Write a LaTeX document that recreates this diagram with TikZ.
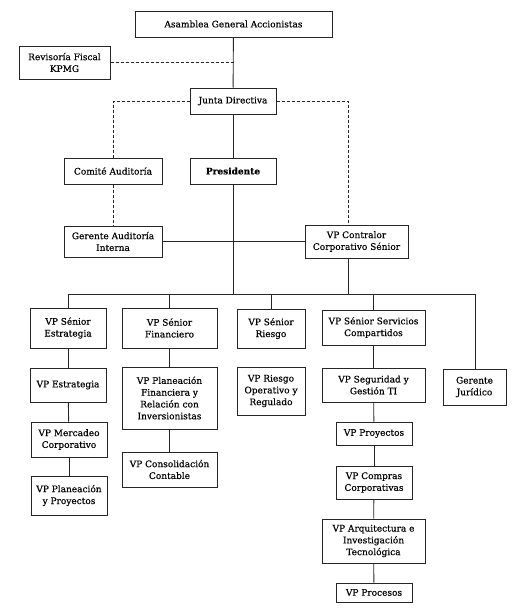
\documentclass[tikz,border=0pt]{standalone}
\usepackage{fontspec}
\setmainfont{DejaVu Serif}[FakeBold=0.35]
\usetikzlibrary{positioning}

\begin{document}
\begin{tikzpicture}[
    x=1pt, y=-1pt,
    every node/.style={font=\fontsize{9}{11.8}\selectfont},
    box/.style 2 args={rectangle, draw=black!85, line width=1pt, align=center, inner sep=1pt, minimum width=#1pt, minimum height=#2pt},
    line/.style={draw=black!85, line width=0.85pt},
    dline/.style={line, dashed, dash pattern=on 3pt off 2pt}
    ]
    \useasboundingbox (0,0) rectangle (513,608);
    \node[box={197}{26}] (AGA) at (233.5,24) {Asamblea General Accionistas};
    \node[box={91}{33}] (RF) at (64.5,62.5) {Revisoría Fiscal\\KPMG};
    \node[box={86}{26}] (JD) at (233,101) {Junta Directiva};
    \node[box={98}{26}] (CA) at (113,171) {Comité Auditoría};
    \node[box={86}{26}, font=\fontsize{9}{11.8}\selectfont\bfseries] (P) at (233,171) {Presidente};
    \node[box={98}{31}] (GAI) at (113,241.5) {Gerente Auditoría\\Interna};
    \node[box={103}{33}] (VPC) at (356.5,241.5) {VP Contralor\\Corporativo Sénior};
    \node[box={76}{40}] (SE) at (68,328) {VP Sénior\\Estrategia};
    \node[box={95}{40}] (SF) at (169.5,328) {VP Sénior\\Financiero};
    \node[box={68}{39}] (SR) at (271,328.5) {VP Sénior\\Riesgo};
    \node[box={103}{35}] (SSC) at (373.5,327.5) {VP Sénior Servicios\\Compartidos};
    \node[box={63}{36}] (GJ) at (474.5,387) {Gerente\\Jurídico};
    \node[box={76}{34}] (VE) at (68,385) {VP Estrategia};
    \node[box={76}{35}] (VMC) at (69,439.5) {VP Mercadeo\\Corporativo};
    \node[box={76}{39}] (VPP) at (69,495.5) {VP Planeación\\y Proyectos};
    \node[box={95}{62}] (VPF) at (169.5,398) {VP Planeación\\Financiera y\\Relación con\\Inversionistas};
    \node[box={95}{35}] (VCC) at (169.5,469.5) {VP Consolidación\\Contable};
    \node[box={68}{48}] (VRO) at (271,391) {VP Riesgo\\Operativo y\\Regulado};
    \node[box={103}{34}] (VSG) at (373.5,385) {VP Seguridad y\\Gestión TI};
    \node[box={76}{23}] (VP) at (374,433.5) {VP Proyectos};
    \node[box={76}{33}] (VCO) at (374,482.5) {VP Compras\\Corporativas};
    \node[box={103}{44}] (VAI) at (373.5,541) {VP Arquitectura e\\Investigación\\Tecnológica};
    \node[box={76}{19}] (VPR) at (374,592.5) {VP Procesos};
    \coordinate (BUSL) at (68,294);
    \coordinate (BUSR) at (475,294);
    \coordinate (CT) at ([xshift=-8.5pt]VPC.north);
    \coordinate (CB) at ([xshift=-8.5pt]VPC.south);
    \draw[line] (AGA) -- (JD);
    \draw[dline] (RF.east) -- (RF.east -| AGA.south);
    \draw[dline] (JD.west) -| (CA.north);
    \draw[dline] (JD.east) -| (CT);
    \draw[dline] (CA) -- (GAI);
    \draw[line] (JD) -- (P);
    \draw[line] (GAI) -- (VPC);
    \draw[line] (P.south) -- (P.south |- BUSL);
    \draw[line] (CB) -- (CB |- BUSL);
    \draw[line] (BUSL) -- (BUSR);
    \draw[line] (BUSL) -- (SE.north);
    \draw[line] (BUSL -| SF.north) -- (SF.north);
    \draw[line] (BUSL -| SR.north) -- (SR.north);
    \draw[line] (BUSL -| SSC.north) -- (SSC.north);
    \draw[line] (BUSR) -- (BUSR |- GJ.north);
    \draw[line] (SE) -- (VE);
    \draw[line] (VE) -- (VMC);
    \draw[line] (VMC) -- (VPP);
    \draw[line] (SF) -- (VPF);
    \draw[line] (VPF) -- (VCC);
    \draw[line] (SSC) -- (VSG);
    \draw[line] (VSG) -- (VP);
    \draw[line] (VP) -- (VCO);
    \draw[line] (VCO) -- (VAI);
    \draw[line] (VAI) -- (VPR);
  \end{tikzpicture}
\end{document}
